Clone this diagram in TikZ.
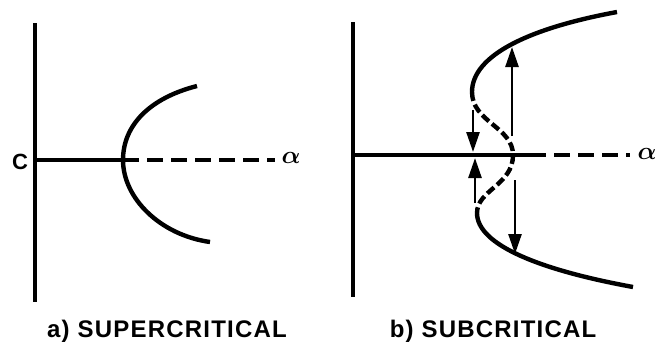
\documentclass[tikz,border=0pt]{standalone}
\usepackage{fontspec}
\setsansfont{Liberation Sans}
\newfontfamily\capfont[LetterSpace=5,UprightFont={* Bold}]{Liberation Sans}
\usetikzlibrary{arrows.meta}

\begin{document}
\begin{tikzpicture}[x=1pt,y=-1pt,
    ax/.style={line width=3.4pt},
    dax/.style={line width=3.4pt,dash pattern=on 16pt off 8pt},
    stab/.style={line width=4.4pt},
    unst/.style={line width=4.4pt,dash pattern=on 9pt off 4pt},
    arr/.style={-{Triangle[length=20pt,width=13pt]},line width=2.6pt},
    lbl/.style={font=\fontsize{24}{26}\selectfont\capfont,anchor=base},
    sym/.style={font=\fontsize{28}{30}\selectfont\boldmath}
]
\useasboundingbox (0,0) rectangle (660,348);

% a) supercritical
\coordinate (ao) at (35,160);
\coordinate (ab) at (123,160);
\draw[ax] (35,23) -- (35,302);
\draw[ax] (ao) -- (ab);
\draw[dax] (ab) -- (275,160) coordinate (ae);
\node[font=\fontsize{22}{24}\selectfont\capfont] (cc) at (20,162) {C};
\node[sym] (aalpha) at (291,158) {$\alpha$};
\draw[stab] (197,86) .. controls (150,98) and (123,125) .. (ab)
  .. controls (123,198) and (160,235) .. (210,242);
\node[lbl] (acap) at (167,337) {a)\hspace{8pt}SUPERCRITICAL};

% b) subcritical
\coordinate (bo) at (353,155);
\coordinate (bx) at (513,155);
\coordinate (bl) at (472,92);
\coordinate (br) at (477,213);
\draw[ax] (353,22) -- (353,297);
\draw[ax] (bo) -- (530,155) coordinate (bs);
\draw[dax] (bs) -- (630,155);
\node[sym] (balpha) at (647,154) {$\alpha$};
\draw[stab] (617,12) .. controls (530,28) and (472,55) .. (bl);
\draw[unst] (bl) .. controls (472,122) and (513,127) .. (bx)
  .. controls (513,185) and (477,190) .. (br);
\draw[stab] (br) .. controls (477,245) and (540,270) .. (633,287);

\coordinate (u1) at (512,136);
\coordinate (u2) at (512,47);
\coordinate (d1) at (515,180);
\coordinate (d2) at (515,254);
\coordinate (s1) at (473,110);
\coordinate (s2) at (473,152);
\coordinate (t1) at (475,203);
\coordinate (t2) at (475,158);
\draw[arr] (u1) -- (u2);
\draw[arr] (d1) -- (d2);
\draw[arr] (s1) -- (s2);
\draw[arr] (t1) -- (t2);
\node[lbl] (bcap) at (493,337) {b)\hspace{8pt}SUBCRITICAL};
\end{tikzpicture}
\end{document}
